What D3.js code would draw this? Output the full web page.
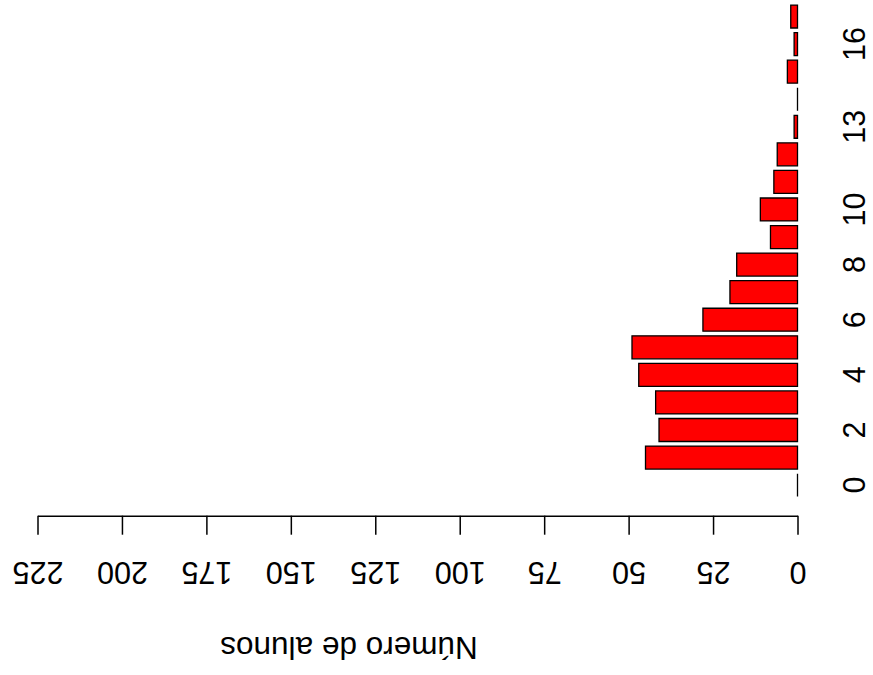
<!DOCTYPE html>
<html>
<head>
<meta charset="utf-8">
<script src="https://cdn.jsdelivr.net/npm/d3@7"></script>
<style>
  html, body { margin: 0; padding: 0; background: #fff; }
  svg { display: block; font-family: "Liberation Sans", Arial, Helvetica, sans-serif; }
</style>
</head>
<body>
<svg id="chart" width="873" height="675"></svg>
<script>
// ---- data ----
const categories = [0, 1, 2, 3, 4, 5, 6, 7, 8, 9, 10, 11, 12, 13, 14, 15, 16, 17];
const counts     = [0, 45, 41, 42, 47, 49, 28, 20, 18, 8, 11, 7, 6, 1, 0, 3, 1, 2];
const shownCategoryLabels = [0, 2, 4, 6, 8, 10, 13, 16];
const valueTicks = [0, 25, 50, 75, 100, 125, 150, 175, 200, 225];
const axisTitle = "Número de alunos";

// ---- layout ----
const svg = d3.select("#chart");
const W = 873, H = 675;
svg.append("rect").attr("width", W).attr("height", H).attr("fill", "#fff");

// value scale (horizontal, increasing to the left)
const x = d3.scaleLinear().domain([0, 225]).range([797.5, 37.5]);
// bar position scale in barplot units (width 1, space 0.2)
const unit = d3.scaleLinear().domain([0, 21.6]).range([501.2, 501.2 - 21.6 * 22.97]);
const barLo = i => 0.2 + 1.2 * i;
const barHi = i => 1.2 + 1.2 * i;
const barMid = i => 0.7 + 1.2 * i;

// bars (as paths so zero-height bars still show their outline)
svg.append("g").selectAll("path")
  .data(categories)
  .join("path")
  .attr("d", (d, i) => {
    const x0 = x(0), x1 = x(counts[i]);
    const y0 = unit(barLo(i)), y1 = unit(barHi(i));
    return `M${x0},${y0}H${x1}V${y1}H${x0}Z`;
  })
  .attr("fill", "#ff0000")
  .attr("stroke", "#000")
  .attr("stroke-width", 1.3);

// value axis
const axisY = 515.7;
const xAxis = d3.axisBottom(x).tickValues(valueTicks).tickSize(19).tickSizeOuter(0).tickPadding(0);
const gx = svg.append("g").attr("transform", `translate(0,${axisY})`).call(xAxis);
gx.select(".domain").attr("stroke", "#000").attr("stroke-width", 1.5);
gx.selectAll(".tick line").attr("stroke", "#000").attr("stroke-width", 1.5);
gx.selectAll(".tick text")
  .attr("y", 0)
  .attr("dy", null)
  .attr("font-size", 30.5)
  .attr("fill", "#000")
  .attr("text-anchor", "middle")
  .attr("dominant-baseline", "central")
  .attr("transform", `translate(0,${573 - axisY}) rotate(180)`);

// category labels (rotated, reading bottom to top)
const catIndex = c => categories.indexOf(c);
svg.append("g").selectAll("text")
  .data(shownCategoryLabels)
  .join("text")
  .attr("transform", d => `translate(854,${unit(barMid(catIndex(d)))}) rotate(-90)`)
  .attr("text-anchor", "middle")
  .attr("dominant-baseline", "central")
  .attr("font-size", 30.5)
  .attr("fill", "#000")
  .text(d => d);

// axis title (upside down)
svg.append("text")
  .attr("transform", "translate(349,648) rotate(180)")
  .attr("text-anchor", "middle")
  .attr("dominant-baseline", "central")
  .attr("font-size", 31.5)
  .attr("fill", "#000")
  .text(axisTitle);
</script>
</body>
</html>
